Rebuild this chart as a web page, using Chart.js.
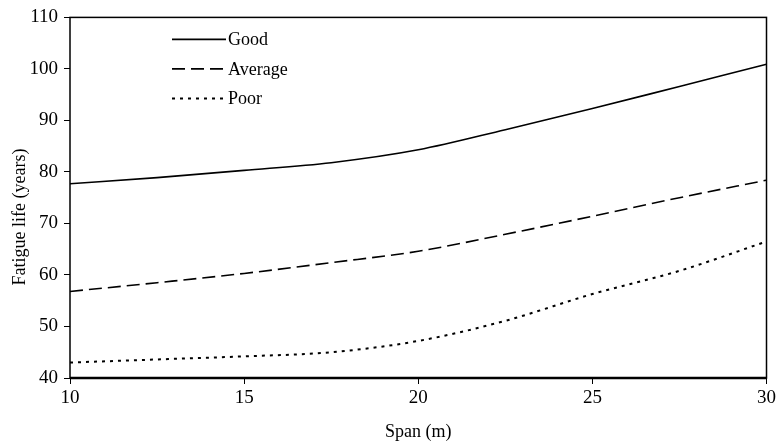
<!DOCTYPE html>
<html>
<head>
<meta charset="utf-8">
<script src="https://cdn.jsdelivr.net/npm/chart.js@4/dist/chart.umd.min.js"></script>
<style>
html,body{margin:0;padding:0;background:#fff;}
#wrap{width:779px;height:444px;position:relative;}
</style>
</head>
<body>
<div id="wrap"><canvas id="c" width="779" height="444"></canvas></div>
<script>
const spans = [10, 12.5, 15, 17.5, 20, 22.5, 25, 27.5, 30];
const good = [77.7, 78.9, 80.3, 81.8, 84.3, 88.2, 92.3, 96.6, 100.9];
const average = [56.8, 58.5, 60.3, 62.4, 64.6, 67.9, 71.4, 75.0, 78.4];
const poor = [43.0, 43.6, 44.2, 45.0, 47.2, 51.1, 56.3, 60.8, 66.5];
const seriesNames = ['Good', 'Average', 'Poor'];
const xTicks = [10, 15, 20, 25, 30];
const yTicks = [40, 50, 60, 70, 80, 90, 100, 110];
const xTitle = 'Span (m)';
const yTitle = 'Fatigue life (years)';

const FONT = '"Liberation Serif", "Times New Roman", serif';
const dashes = [[], [13, 6], [3, 5]];

function toPts(arr){ return spans.map((x,i)=>({x:x, y:arr[i]})); }

const legendPlugin = {
  id: 'inlegend',
  afterDraw(chart){
    const ctx = chart.ctx;
    const ca = chart.chartArea;
    ctx.save();
    ctx.font = '18px ' + FONT;
    ctx.fillStyle = '#000';
    ctx.textBaseline = 'middle';
    chart.data.datasets.forEach((ds, i) => {
      const y = ca.top + 22 + i * 29.5;
      const x0 = ca.left + 102;
      ctx.beginPath();
      ctx.setLineDash(ds.borderDash || []);
      ctx.lineWidth = ds.borderWidth;
      ctx.strokeStyle = '#000';
      ctx.moveTo(x0, y);
      ctx.lineTo(x0 + 54, y);
      ctx.stroke();
      ctx.setLineDash([]);
      ctx.fillText(ds.label, x0 + 56, y + 1);
    });
    // y axis title
    ctx.save();
    ctx.translate(20, 217);
    ctx.rotate(-Math.PI / 2);
    ctx.textAlign = 'center';
    ctx.textBaseline = 'middle';
    ctx.font = '18px ' + FONT;
    ctx.fillText(yTitle, 0, 0);
    ctx.restore();
    ctx.restore();
  }
};

const framePlugin = {
  id: 'frame',
  afterDatasetsDraw(chart){
    const ctx = chart.ctx, ca = chart.chartArea;
    ctx.save();
    ctx.strokeStyle = '#000';
    ctx.lineWidth = 1.5;
    ctx.strokeRect(ca.left, ca.top, ca.right - ca.left, ca.bottom - ca.top);
    ctx.lineWidth = 2.5;
    ctx.beginPath();
    ctx.moveTo(ca.left, ca.bottom);
    ctx.lineTo(ca.right, ca.bottom);
    ctx.stroke();
    ctx.restore();
  }
};

new Chart(document.getElementById('c'), {
  type: 'line',
  data: {
    datasets: [good, average, poor].map((arr, i) => ({
      label: seriesNames[i],
      data: toPts(arr),
      borderColor: '#000',
      borderWidth: i === 2 ? 2 : 1.6,
      borderDash: dashes[i],
      pointRadius: 0,
      fill: false,
      cubicInterpolationMode: 'monotone'
    }))
  },
  options: {
    responsive: false,
    animation: false,
    layout: { padding: { top: 17, right: 12, left: 0, bottom: 0 } },
    plugins: { legend: { display: false }, tooltip: { enabled: false } },
    scales: {
      x: {
        type: 'linear',
        min: 10, max: 30,
        afterBuildTicks(s){ s.ticks = xTicks.map(v => ({value: v})); },
        grid: { display: true, drawOnChartArea: false, drawTicks: true, tickLength: 6, color: '#000', lineWidth: 1 },
        border: { display: false },
        ticks: { color: '#000', font: { family: FONT, size: 19 }, padding: 3, maxRotation: 0 },
        title: { display: true, text: xTitle, color: '#000', font: { family: FONT, size: 18 }, padding: { top: 0, bottom: 1 } },
        afterFit(s){ s.height = 66; }
      },
      y: {
        min: 40, max: 110,
        afterBuildTicks(s){ s.ticks = yTicks.map(v => ({value: v})); },
        grid: { display: true, drawOnChartArea: false, drawTicks: true, tickLength: 6, color: '#000', lineWidth: 1 },
        border: { display: false },
        ticks: { color: '#000', font: { family: FONT, size: 19 }, padding: 6 },
        afterFit(s){ s.width = 70; }
      }
    }
  },
  plugins: [legendPlugin, framePlugin]
});
</script>
</body>
</html>
